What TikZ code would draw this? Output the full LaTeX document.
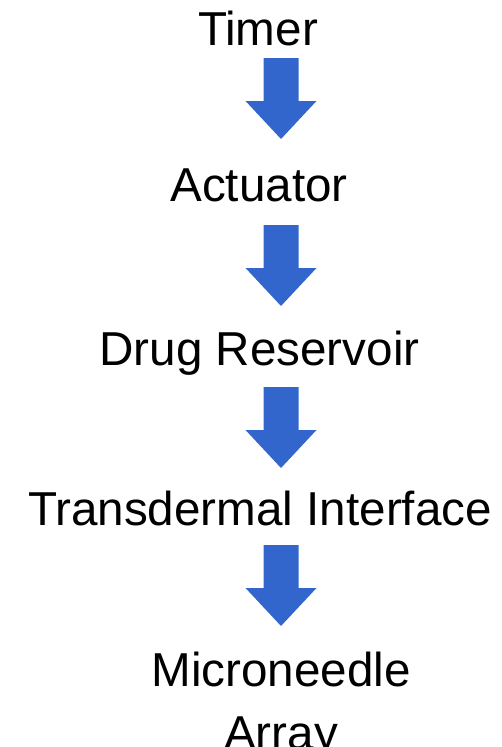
\documentclass[tikz,border=0pt]{standalone}
\usepackage{fontspec}
\setmainfont{Liberation Sans}
\definecolor{arrowblue}{HTML}{3366CC}
\begin{document}
\begin{tikzpicture}[x=1pt,y=-1pt,
  lbl/.style={anchor=base,inner sep=0pt,font=\fontsize{47.6}{63}\selectfont,text=black},
  blockarrow/.pic={\fill[arrowblue] (-17.5,0) -- (17.5,0) -- (17.5,43) -- (35.5,43) -- (0,81) -- (-35.5,43) -- (-17.5,43) -- cycle;}]
\useasboundingbox (0,0) rectangle (502,747);
\node[lbl] (timer) at (258,45) {Timer};
\node[lbl] (act) at (259,201) {Actuator};
\node[lbl] (res) at (259.5,365) {Drug Reservoir};
\node[lbl] (trans) at (260,525) {Transdermal Interface};
\node[lbl,align=center,anchor=north] (micro) at (281,686-34.1) {Microneedle\\Array};
\pic at (281,58) {blockarrow};
\pic at (281,225) {blockarrow};
\pic at (281,387) {blockarrow};
\pic at (281,545) {blockarrow};
\end{tikzpicture}
\end{document}
